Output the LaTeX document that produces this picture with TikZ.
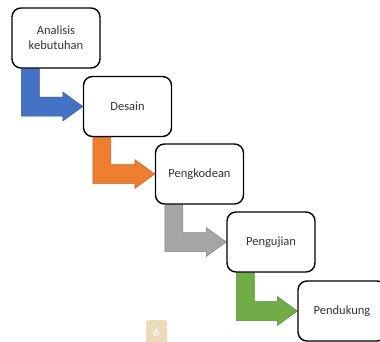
\documentclass[tikz,border=0pt]{standalone}
\usepackage{fontspec}
\setmainfont{Carlito}
\usetikzlibrary{calc,backgrounds}
\definecolor{oblue}{HTML}{4472C4}
\definecolor{oorange}{HTML}{ED7D31}
\definecolor{ogray}{HTML}{A5A5A5}
\definecolor{ogreen}{HTML}{70AD47}
\definecolor{badge}{HTML}{EBDBB8}
\definecolor{txt}{HTML}{333333}
\newcommand\bentarrow[3]{%
  \path[fill=#3, draw=#3!80!black, line width=0.5pt]
    let \p1=(#1.south west), \p2=(#2.west) in
    (\x1+10pt,\y1) -- (\x1+10pt,\y2-9.5pt) -- (\x2-20pt,\y2-9.5pt) -- (\x2-20pt,\y2-14.5pt)
    -- (\x2,\y2) -- (\x2-20pt,\y2+14.5pt) -- (\x2-20pt,\y2+9.5pt) -- (\x1+28pt,\y2+9.5pt)
    -- (\x1+28pt,\y1) -- cycle;}
\begin{document}
\begin{tikzpicture}[x=1pt,y=-1pt,
  stage/.style={draw=black, line width=1.4pt, rounded corners=9pt, fill=white,
    minimum width=88pt, minimum height=60pt, inner sep=2pt, align=center,
    text=txt, font=\fontsize{12.5}{15}\selectfont}]
\useasboundingbox (0,0) rectangle (380,341);
\clip (0,0) rectangle (380,341);
\node[stage] (b1) at (56,38) {Analisis\\kebutuhan};
\node[stage] (b2) at (127.5,106.5) {Desain};
\node[stage] (b3) at (199.5,174) {Pengkodean};
\node[stage] (b4) at (271,242) {Pengujian};
\node[stage] (b5) at (342,311) {Pendukung};
\begin{scope}[on background layer]
\bentarrow{b1}{b2}{oblue}
\bentarrow{b2}{b3}{oorange}
\bentarrow{b3}{b4}{ogray}
\bentarrow{b4}{b5}{ogreen}
\end{scope}
\node[fill=badge, rounded corners=2pt, minimum width=21pt, minimum height=24pt,
  inner sep=0pt, text=white, font=\fontsize{13}{15}\selectfont, anchor=north]
  (pg) at (156.5,320) {6};
\end{tikzpicture}
\end{document}
